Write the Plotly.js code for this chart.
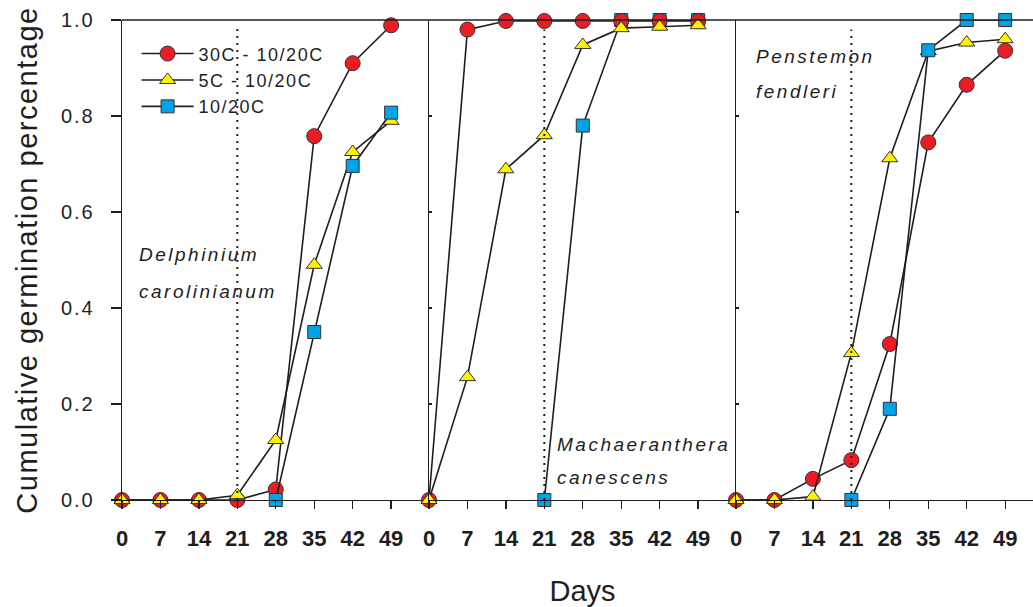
<!DOCTYPE html>
<html><head><meta charset="utf-8">
<script src="https://cdn.plot.ly/plotly-3.0.1.min.js"></script>
<style>
html,body{margin:0;padding:0;background:#fff;}
#chart{width:1033px;height:607px;}
.legendtext{letter-spacing:1.5px;}
.annotation-text{letter-spacing:2.5px;}
.ytick text{letter-spacing:2px;}
.ytitle,.xtitle{letter-spacing:1.5px;}
</style></head><body><div id="chart"></div>
<script>
// Days of observation
const days = [0, 7, 14, 21, 28, 35, 42, 49];
const dayLabels = ['0', '7', '14', '21', '28', '35', '42', '49'];
const seriesNames = ['30C - 10/20C', '5C - 10/20C', '10/20C'];
const speciesNames = [['Delphinium', 'carolinianum'], ['Machaeranthera', 'canescens'], ['Penstemon', 'fendleri']];
const coldDay = 21;

// Delphinium carolinianum
const delRed    = [0, 0, 0, 0, 0.022, 0.758, 0.910, 0.989];
const delYellow = [0, 0, 0, 0.010, 0.125, 0.490, 0.725, 0.790];
const delBlue   = [null, null, null, null, 0, 0.350, 0.696, 0.807];

// Machaeranthera canescens
const macRed    = [0, 0.980, 0.998, 0.998, 0.998, 0.998, 0.998, 0.998];
const macYellow = [0, 0.256, 0.689, 0.760, 0.948, 0.983, 0.986, 0.989];
const macBlue   = [null, null, null, 0, 0.780, 1.000, 1.000, 1.000];

// Penstemon fendleri
const penRed    = [0, 0, 0.044, 0.083, 0.325, 0.745, 0.865, 0.936];
const penYellow = [0, 0, 0.007, 0.306, 0.712, 0.935, 0.953, 0.960];
const penBlue   = [null, null, null, 0, 0.190, 0.937, 1.000, 1.000];

const FONT = 'Liberation Sans, Arial, sans-serif';
const INK = '#1e1e1e';
const styles = {
  red:    {color: '#ec1c24', symbol: 'circle', size: 15},
  yellow: {color: '#fff200', symbol: 'triangle-up', size: 14},
  blue:   {color: '#00a2e8', symbol: 'square', size: 13}
};
const rank = {red: 1, yellow: 2, blue: 3};
const nameOf = {red: seriesNames[0], yellow: seriesNames[1], blue: seriesNames[2]};

function tr(panel, key, ys, legend) {
  const s = styles[key];
  const ax = panel === 1 ? '' : String(panel);
  return {
    type: 'scatter', mode: 'lines+markers',
    x: days, y: ys, xaxis: 'x' + ax, yaxis: 'y' + ax,
    name: nameOf[key], showlegend: legend, legendgroup: key, legendrank: rank[key],
    cliponaxis: false, connectgaps: false, hoverinfo: 'skip',
    line: {color: INK, width: 1.6},
    marker: {color: s.color, symbol: s.symbol, size: s.size, line: {color: '#333', width: 1}}
  };
}

const data = [
  tr(1, 'red', delRed, true), tr(1, 'yellow', delYellow, true), tr(1, 'blue', delBlue, true),
  tr(2, 'blue', macBlue, false), tr(2, 'red', macRed, false), tr(2, 'yellow', macYellow, false),
  tr(3, 'red', penRed, false), tr(3, 'yellow', penYellow, false), tr(3, 'blue', penBlue, false)
];

const W = 911;
const d1 = 307 / W, d2 = 614 / W;
function xa(domain, maxDay) {
  return {
    domain: domain, range: [0, maxDay], tickmode: 'array', tickvals: days, ticktext: dayLabels,
    showline: true, linecolor: INK, linewidth: 1.3, ticks: 'outside', ticklen: 8, tickwidth: 1.3, tickcolor: INK,
    showgrid: false, zeroline: false, ticklabelstandoff: 10,
    tickfont: {family: FONT, size: 22, color: INK, weight: 'bold'}, fixedrange: true
  };
}
function ya(anchor, main) {
  const o = {
    anchor: anchor, domain: [0, 1], range: [0, 1], tickmode: 'array', tickvals: [0, 0.2, 0.4, 0.6, 0.8, 1.0],
    tickformat: '.1f', showline: true, linecolor: INK, linewidth: 1.3, showgrid: false, zeroline: false,
    tickcolor: INK, tickwidth: 1.3, fixedrange: true
  };
  if (main) {
    Object.assign(o, {ticks: 'outside', ticklen: 10, ticklabelstandoff: 12,
      tickfont: {family: FONT, size: 20, color: INK},
      title: {text: 'Cumulative germination percentage', standoff: 14, font: {family: FONT, size: 29, color: INK}}});
  } else {
    Object.assign(o, {ticks: 'inside', ticklen: 3, showticklabels: false});
  }
  return o;
}

const xa1 = xa([0, d1], 55.9), xa2 = xa([d1, d2], 55.9), xa3 = xa([d2, 1], 54.07);
xa2.title = {text: 'Days', standoff: 32, font: {family: FONT, size: 29, color: INK}};

const dotted = {color: INK, width: 2, dash: '2px,5px'};
const shapes = [
  {type: 'line', xref: 'paper', yref: 'paper', x0: 0, x1: 1, y0: 1, y1: 1, line: {color: INK, width: 1.3}},
  {type: 'line', xref: 'x', yref: 'y', x0: coldDay, x1: coldDay, y0: 0, y1: 0.99, line: dotted},
  {type: 'line', xref: 'x2', yref: 'y2', x0: coldDay, x1: coldDay, y0: 0, y1: 0.98, line: dotted},
  {type: 'line', xref: 'x3', yref: 'y3', x0: coldDay, x1: coldDay, y0: 0, y1: 0.98, line: dotted}
];

const afont = {family: FONT, size: 19, color: INK, style: 'italic'};
function ann(xref, yref, x, y, text) {
  return {xref: xref, yref: yref, x: x, y: y, text: text, showarrow: false, xanchor: 'left', yanchor: 'middle', font: afont};
}
const annotations = [
  ann('x', 'y', 2.7, 0.512, speciesNames[0][0]), ann('x', 'y', 2.7, 0.435, speciesNames[0][1]),
  ann('x2', 'y2', 23.0, 0.115, speciesNames[1][0]), ann('x2', 'y2', 23.0, 0.046, speciesNames[1][1]),
  ann('x3', 'y3', 3.3, 0.925, speciesNames[2][0]), ann('x3', 'y3', 3.3, 0.852, speciesNames[2][1])
];

const layout = {
  width: 1033, height: 607, margin: {l: 122, r: 0, t: 20, b: 107},
  paper_bgcolor: '#fff', plot_bgcolor: 'rgba(0,0,0,0)',
  font: {family: FONT, color: INK},
  xaxis: xa1, xaxis2: xa2, xaxis3: xa3,
  yaxis: ya('x', true), yaxis2: ya('x2', false), yaxis3: ya('x3', false),
  showlegend: true,
  legend: {x: 0.016, y: 0.968, xanchor: 'left', yanchor: 'top', bgcolor: 'rgba(0,0,0,0)', borderwidth: 0,
    traceorder: 'grouped', tracegroupgap: 0, itemwidth: 52,
    font: {family: FONT, size: 18, color: INK}},
  shapes: shapes, annotations: annotations
};

Plotly.newPlot('chart', data, layout, {staticPlot: true, displayModeBar: false});
</script></body></html>
